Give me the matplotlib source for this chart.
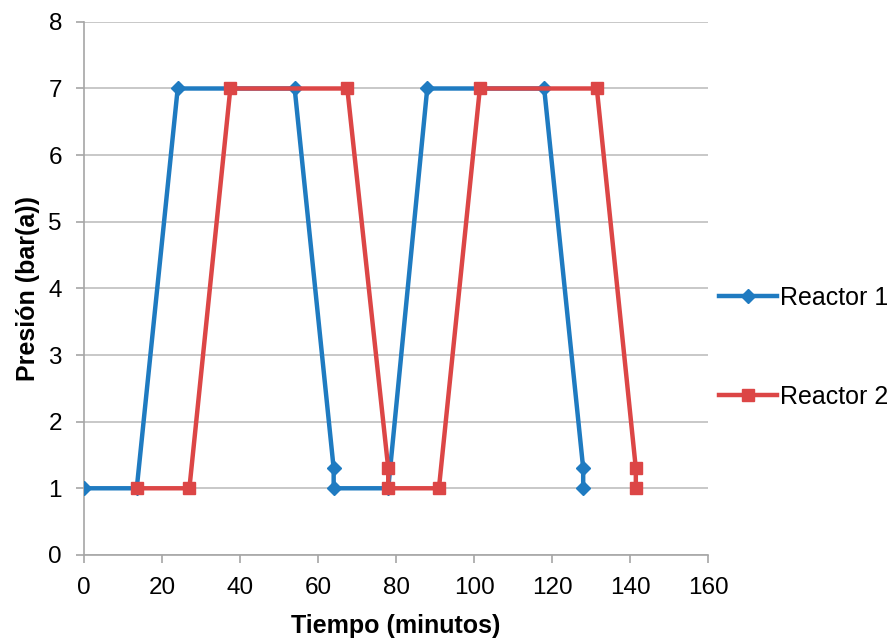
import matplotlib
matplotlib.use('Agg')
import matplotlib.pyplot as plt

plt.rcParams['font.family'] = ['Liberation Sans', 'DejaVu Sans']

# Datos
t_r1 = [0, 13.5, 24, 54, 64, 64, 78, 88, 118, 128, 128]
p_r1 = [1, 1, 7, 7, 1.3, 1, 1, 7, 7, 1.3, 1]
t_r2 = [13.5, 27, 37.5, 67.5, 78, 78, 91, 101.5, 131.5, 141.5, 141.5]
p_r2 = [1, 1, 7, 7, 1.3, 1, 1, 7, 7, 1.3, 1]

azul = '#1f7bc1'
rojo = '#dc4646'

fig = plt.figure(figsize=(8.95, 6.43), dpi=100)
ax = fig.add_axes([0.094, 0.137, 0.697, 0.829])

ax.plot(t_r1, p_r1, color=azul, lw=3.2, marker='D', ms=7, label='Reactor 1', zorder=3)
ax.plot(t_r2, p_r2, color=rojo, lw=3.2, marker='s', ms=9, label='Reactor 2', zorder=4)

ax.set_xlim(0, 160)
ax.set_ylim(0, 8)
ax.set_xticks(range(0, 161, 20))
ax.set_yticks(range(0, 9))
ax.grid(axis='y', color='#bfbfbf', lw=1.2)
ax.set_axisbelow(True)
for s in ['top', 'right']:
    ax.spines[s].set_visible(False)
for s in ['left', 'bottom']:
    ax.spines[s].set_color('#a6a6a6')
    ax.spines[s].set_linewidth(1.2)
ax.tick_params(axis='both', labelsize=17.5, colors='#a6a6a6', labelcolor='black',
               length=6, width=1.2, pad=10)

ax.set_xlabel('Tiempo (minutos)', fontsize=18, fontweight='bold', labelpad=11)
ax.set_ylabel('Presión (bar(a))', fontsize=18, fontweight='bold', labelpad=6)

ax.legend(loc='center left', bbox_to_anchor=(0.99, 0.39), frameon=False, fontsize=18,
          labelspacing=3.0, handlelength=2.3, handletextpad=0.15, borderaxespad=0.3)

fig.savefig('out.png', dpi=100)
